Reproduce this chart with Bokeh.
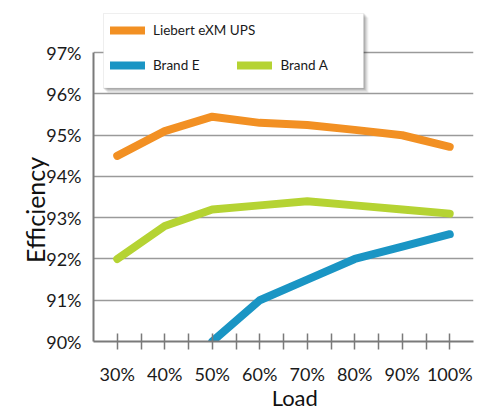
from bokeh.plotting import figure
from bokeh.models import Range1d, FixedTicker, Legend, LegendItem, BoxAnnotation
from bokeh.embed import file_html
from bokeh.resources import INLINE

# ---- data ----
loads = [30, 40, 50, 60, 70, 80, 90, 100]
liebert = [94.5, 95.1, 95.45, 95.3, 95.25, 95.13, 95.0, 94.72]
brand_a = [92.0, 92.8, 93.2, 93.3, 93.4, 93.3, 93.2, 93.1]
brand_e_loads = [50, 60, 70, 80, 90, 100]
brand_e = [90.0, 91.0, 91.5, 92.0, 92.3, 92.6]
y_ticks = [90, 91, 92, 93, 94, 95, 96, 97]
x_major = [30, 40, 50, 60, 70, 80, 90, 100]
x_minor = [35, 45, 55, 65, 75, 85, 95]
x_labels = {v: f"{v}%" for v in x_major}
y_labels = {v: f"{v}%" for v in y_ticks}

ORANGE = "#F29023"
GREEN = "#B5D333"
BLUE = "#1A95C4"
FONT = "Lato"
NB = "\u00a0"

W, H = 485, 413
ML, MT, MB = 93, 8, 70
frame_w = 380
frame_h = H - MT - MB
MR = W - ML - frame_w
x0, x1 = 25, 105
y0 = 90
px_per_pct = 41.5
y1 = y0 + frame_h / px_per_pct

p = figure(width=W, height=H, output_backend="svg", toolbar_location=None,
           x_range=Range1d(x0, x1), y_range=Range1d(y0, y1),
           min_border_left=ML, min_border_right=MR, min_border_top=MT,
           min_border_bottom=MB)
p.outline_line_color = None
p.background_fill_color = "white"
p.border_fill_color = "white"

# helpers: frame-pixel offsets -> data units
def dx(px_from_left):
    return x0 + px_from_left * (x1 - x0) / frame_w

def dy(px_from_top):
    return y1 - px_from_top / px_per_pct

# axes
xa = p.xaxis[0]
xa.ticker = FixedTicker(ticks=x_major, minor_ticks=x_minor)
xa.major_label_overrides = x_labels
xa.axis_line_color = "#7a7a7a"
xa.axis_line_width = 2
xa.major_tick_line_color = "#7a7a7a"
xa.minor_tick_line_color = "#7a7a7a"
xa.major_tick_line_width = 1.5
xa.minor_tick_line_width = 1.5
xa.major_tick_in = 8
xa.major_tick_out = 8
xa.minor_tick_in = 8
xa.minor_tick_out = 8
xa.major_label_standoff = 13
xa.major_label_text_font = FONT
xa.major_label_text_font_size = "18px"
xa.major_label_text_color = "#1a1a1a"
xa.axis_label = NB * 4 + "Load"
xa.axis_label_text_font = FONT
xa.axis_label_text_font_size = "22px"
xa.axis_label_text_font_style = "normal"
xa.axis_label_text_color = "#111111"
xa.axis_label_text_line_height = 0.5
xa.axis_label_standoff = -4

ya = p.yaxis[0]
ya.ticker = FixedTicker(ticks=y_ticks)
ya.major_label_overrides = y_labels
ya.bounds = (90, 97)
ya.axis_line_color = "#7a7a7a"
ya.axis_line_width = 2
ya.major_tick_line_color = None
ya.minor_tick_line_color = None
ya.major_tick_in = 0
ya.major_tick_out = 0
ya.major_label_standoff = 12
ya.major_label_text_font = FONT
ya.major_label_text_font_size = "18px"
ya.major_label_text_color = "#1a1a1a"
ya.axis_label = "Efficiency" + NB * 11
ya.axis_label_text_font = FONT
ya.axis_label_text_font_size = "25px"
ya.axis_label_text_font_style = "normal"
ya.axis_label_text_color = "#111111"
ya.axis_label_standoff = -7

p.xgrid.grid_line_color = None
p.ygrid.ticker = FixedTicker(ticks=y_ticks[1:])
p.ygrid.grid_line_color = "#9a9a9a"
p.ygrid.grid_line_width = 1.5

# lines
r_l = p.line(loads, liebert, line_color=ORANGE, line_width=8,
             line_cap="round", line_join="round")
r_a = p.line(loads, brand_a, line_color=GREEN, line_width=8,
             line_cap="round", line_join="round")
r_e = p.line(brand_e_loads, brand_e, line_color=BLUE, line_width=8,
             line_cap="round", line_join="round")

# legend box with soft shadow
bl, br, bt, bb = 10, 270, 5, 80
for k, a in [(5, 0.05), (4, 0.06), (3, 0.08), (2, 0.10), (1, 0.12)]:
    p.add_layout(BoxAnnotation(left=dx(bl + k - 1), right=dx(br + k),
                               top=dy(bt + k - 1), bottom=dy(bb + k),
                               fill_color="black", fill_alpha=a,
                               line_color=None))
p.add_layout(BoxAnnotation(left=dx(bl), right=dx(br), top=dy(bt), bottom=dy(bb),
                           fill_color="white", fill_alpha=1.0,
                           line_color="#d8d8d8", line_width=1))

def make_legend(items, loc, orientation="vertical"):
    return Legend(items=items, location=loc, orientation=orientation,
                  background_fill_alpha=0, border_line_color=None,
                  padding=0, margin=0, spacing=38,
                  glyph_width=35, glyph_height=20, label_height=20,
                  label_standoff=8,
                  label_text_font=FONT, label_text_font_size="13.5px",
                  label_text_color="#1a1a1a")

lg1 = make_legend([LegendItem(label="Liebert eXM UPS", renderers=[r_l])],
                  (17, frame_h - 34))
lg2 = make_legend([LegendItem(label="Brand E", renderers=[r_e]),
                   LegendItem(label="Brand A", renderers=[r_a])],
                  (17, frame_h - 69), orientation="horizontal")
p.add_layout(lg1)
p.add_layout(lg2)

open("out.html", "w").write(file_html(p, INLINE))
